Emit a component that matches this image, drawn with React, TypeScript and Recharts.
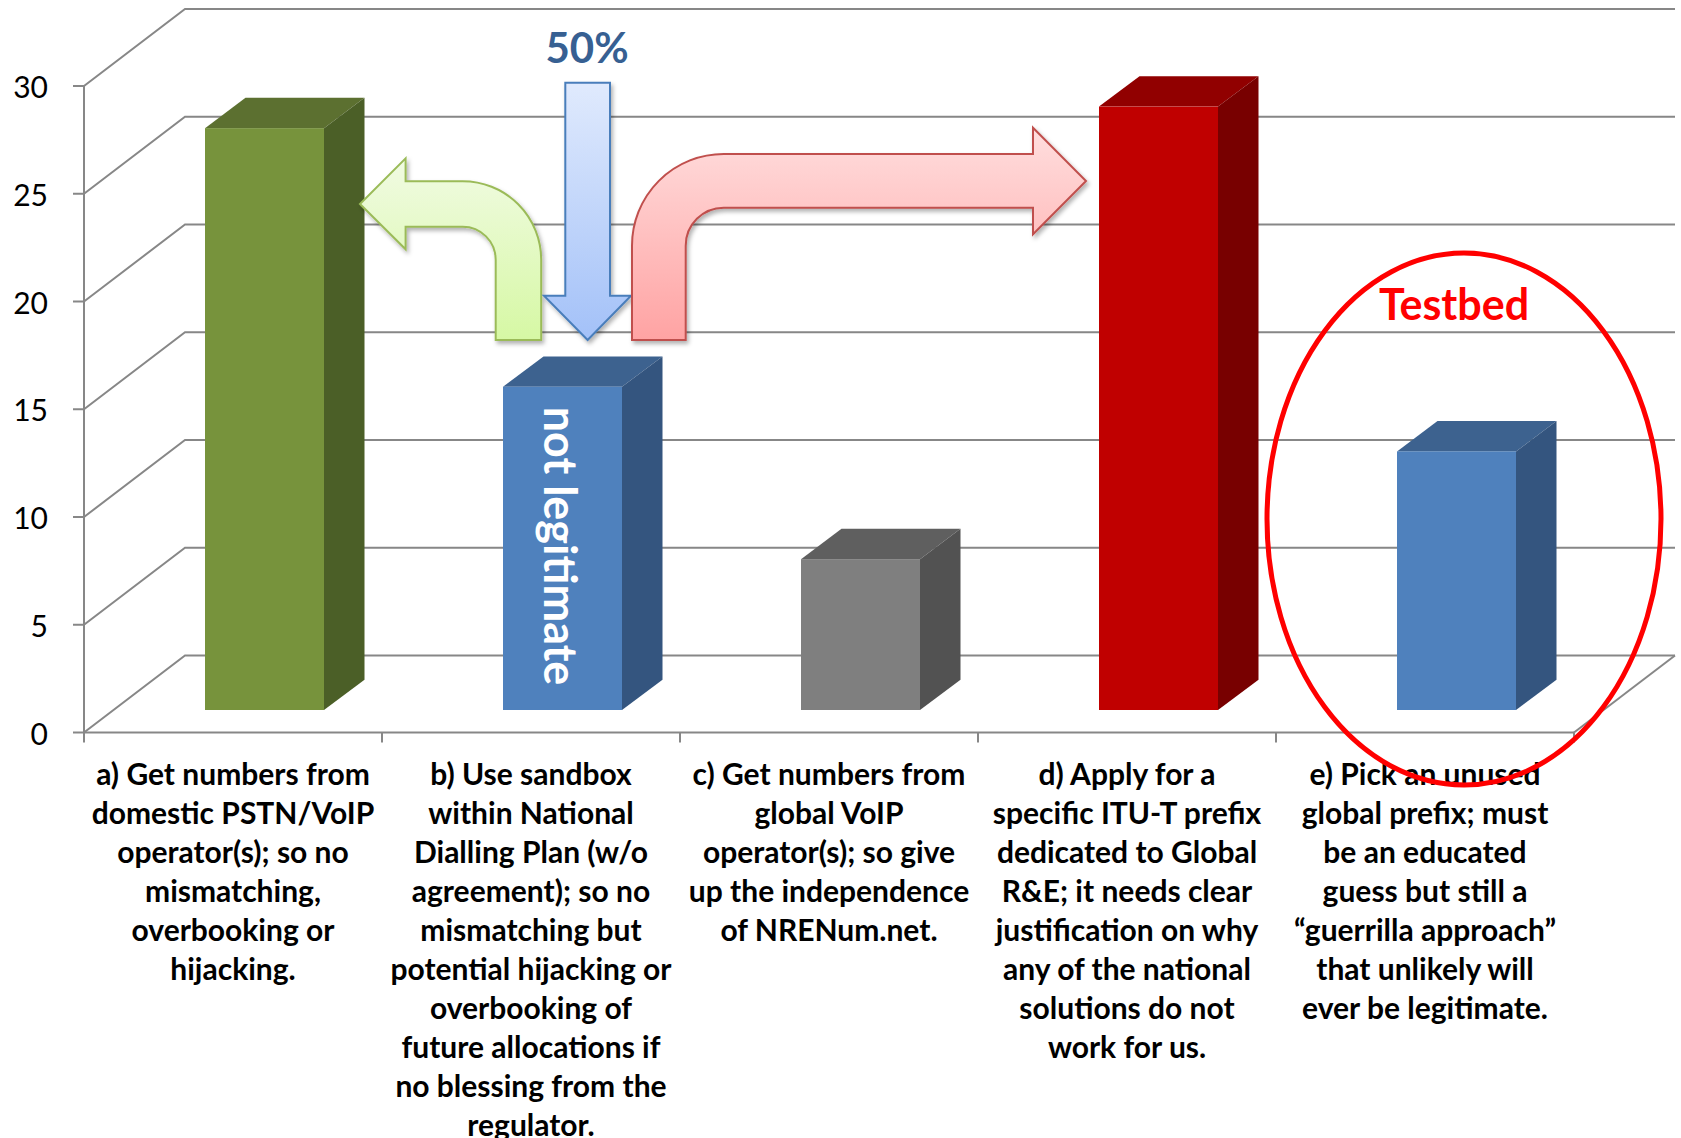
import { Bar, BarChart, CartesianGrid, XAxis, YAxis } from 'recharts';

// votes per numbering option
const categories = ['a', 'b', 'c', 'd', 'e'];
const votes = [27, 15, 7, 28, 12];
const yTicks = [0, 5, 10, 15, 20, 25, 30];

const labelLines = [
  ['a) Get numbers from', 'domestic PSTN/VoIP', 'operator(s); so no', 'mismatching,', 'overbooking or', 'hijacking.'],
  [
    'b) Use sandbox',
    'within National',
    'Dialling Plan (w/o',
    'agreement); so no',
    'mismatching but',
    'potential hijacking or',
    'overbooking of',
    'future allocations if',
    'no blessing from the',
    'regulator.',
  ],
  ['c) Get numbers from', 'global VoIP', 'operator(s); so give', 'up the independence', 'of NRENum.net.'],
  [
    'd) Apply for a',
    'specific ITU-T prefix',
    'dedicated to Global',
    'R&E; it needs clear',
    'justification on why',
    'any of the national',
    'solutions do not',
    'work for us.',
  ],
  [
    'e) Pick an unused',
    'global prefix; must',
    'be an educated',
    'guess but still a',
    '\u201Cguerrilla approach\u201D',
    'that unlikely will',
    'ever be legitimate.',
  ],
];

const data = categories.map((key, i) => ({ key, votes: votes[i] }));

const W = 1681;
const H = 1138;
const MARGIN = { top: 86, right: 107, bottom: 0, left: 0 };
const Y_AXIS_W = 84;
const X_AXIS_H = 405.5;
const PLOT_W = W - Y_AXIS_W - MARGIN.right;
const BAND = PLOT_W / categories.length;

// 3d projection offsets
const WALL_DX = 101;
const WALL_DY = 77;
const FACE_DX = 31;
const FACE_DY = 22.5;
const DEPTH_DX = 40.5;
const DEPTH_DY = 30.3;

const GRID = '#878787';
const FONT = 'Lato, "Open Sans", sans-serif';

const barColors = [
  { front: '#77933c', top: '#5c7030', side: '#4b5f27' },
  { front: '#4f81bd', top: '#3d628f', side: '#34557f' },
  { front: '#7f7f7f', top: '#5f5f5f', side: '#525252' },
  { front: '#c00000', top: '#910000', side: '#780000' },
  { front: '#4f81bd', top: '#3d628f', side: '#34557f' },
];

function Bar3D(props: any) {
  const { x, y, width, height, index } = props;
  const c = barColors[index];
  const fx = x + FACE_DX;
  const fy = y - FACE_DY;
  const top = `${fx},${fy} ${fx + DEPTH_DX},${fy - DEPTH_DY} ${fx + width + DEPTH_DX},${fy - DEPTH_DY} ${fx + width},${fy}`;
  const side = `${fx + width},${fy} ${fx + width + DEPTH_DX},${fy - DEPTH_DY} ${fx + width + DEPTH_DX},${fy + height - DEPTH_DY} ${fx + width},${fy + height}`;
  return (
    <g>
      <polygon points={top} fill={c.top} />
      <polygon points={side} fill={c.side} />
      <rect x={fx} y={fy} width={width} height={height} fill={c.front} />
    </g>
  );
}

function gridLine(props: any) {
  const { x1, y1, x2, index } = props;
  const isFloor = y1 > H - X_AXIS_H - 1;
  return (
    <g key={`grid-${index}`}>
      <path
        d={`M${x1},${y1} L${x1 + WALL_DX},${y1 - WALL_DY} L${x2 + WALL_DX},${y1 - WALL_DY}`}
        fill="none"
        stroke={GRID}
        strokeWidth={2}
      />
      {isFloor && (
        <line x1={x2} y1={y1} x2={x2 + WALL_DX} y2={y1 - WALL_DY} stroke={GRID} strokeWidth={2} />
      )}
    </g>
  );
}

function ValueTick({ x, y, payload }: any) {
  return (
    <text x={x} y={y} textAnchor="end" dominantBaseline="central" fontFamily={FONT} fontSize={30} fill="#000">
      {payload.value}
    </text>
  );
}

function CategoryTick({ x, y, index }: any) {
  const lines = labelLines[index] || [];
  const left = x - BAND / 2;
  return (
    <g>
      <line x1={left} y1={y} x2={left} y2={y + 10} stroke={GRID} strokeWidth={2} />
      {index === categories.length - 1 && (
        <line x1={x + BAND / 2} y1={y} x2={x + BAND / 2} y2={y + 10} stroke={GRID} strokeWidth={2} />
      )}
      <text textAnchor="middle" fontFamily={FONT} fontWeight={700} fontSize={30} fill="#000">
        {lines.map((line, i) => (
          <tspan key={i} x={x} y={y + 52.5 + i * 39}>
            {line}
          </tspan>
        ))}
      </text>
    </g>
  );
}

function Annotations() {
  return (
    <svg width={W} height={H} style={{ position: 'absolute', left: 0, top: 0, pointerEvents: 'none' }}>
      <defs>
        <linearGradient id="gBlue" x1="0" y1="0" x2="0" y2="1">
          <stop offset="0%" stopColor="#e0eafd" />
          <stop offset="100%" stopColor="#a3c1f8" />
        </linearGradient>
        <linearGradient id="gGreen" x1="0" y1="0" x2="0" y2="1">
          <stop offset="0%" stopColor="#f1fbe3" />
          <stop offset="100%" stopColor="#d6f8a4" />
        </linearGradient>
        <linearGradient id="gRed" x1="0" y1="0" x2="0" y2="1">
          <stop offset="0%" stopColor="#ffdede" />
          <stop offset="100%" stopColor="#ffa3a3" />
        </linearGradient>
        <filter id="shadow" x="-10%" y="-10%" width="130%" height="130%">
          <feDropShadow dx="2" dy="3" stdDeviation="2" floodColor="#000" floodOpacity="0.3" />
        </filter>
      </defs>

      <text x={587} y={63} textAnchor="middle" fontFamily={FONT} fontWeight={700} fontSize={42} fill="#376092">
        50%
      </text>

      <path
        d="M495.7,340 L495.7,259.7 A33,33 0 0 0 462.7,226.7 L405.6,226.7 L405.6,249.3 L360,204 L405.6,158.3 L405.6,181.2 L462.7,181.2 A78.5,78.5 0 0 1 541.2,259.7 L541.2,340 Z"
        fill="url(#gGreen)"
        stroke="#9bbb59"
        strokeWidth={2}
        filter="url(#shadow)"
      />
      <path
        d="M565.3,82.7 L610,82.7 L610,295.7 L631,295.7 L587.6,340 L544,295.7 L565.3,295.7 Z"
        fill="url(#gBlue)"
        stroke="#4a7ebb"
        strokeWidth={2}
        filter="url(#shadow)"
      />
      <path
        d="M632,340 L632,245.7 A91.7,91.7 0 0 1 723.7,154 L1033,154 L1033,127.7 L1086,181 L1033,234.3 L1033,207.7 L723.7,207.7 A38,38 0 0 0 685.7,245.7 L685.7,340 Z"
        fill="url(#gRed)"
        stroke="#c0504d"
        strokeWidth={2}
        filter="url(#shadow)"
      />

      <text
        transform="translate(561,546) rotate(90)"
        textAnchor="middle"
        dominantBaseline="central"
        fontFamily={FONT}
        fontWeight={700}
        fontSize={45}
        fill="#ffffff"
      >
        not legitimate
      </text>

      <ellipse cx={1464} cy={519} rx={197} ry={266} fill="none" stroke="#ff0000" strokeWidth={5} />
      <text x={1454} y={320} textAnchor="middle" fontFamily={FONT} fontWeight={700} fontSize={43} fill="#ff0000">
        Testbed
      </text>
    </svg>
  );
}

export default function App() {
  return (
    <div style={{ position: 'absolute', left: 0, top: 0, width: W, height: H, background: '#fff', overflow: 'hidden' }}>
      <BarChart width={W} height={H} data={data} margin={MARGIN}>
        <CartesianGrid vertical={false} horizontal={gridLine} stroke={GRID} />
        <XAxis
          dataKey="key"
          height={X_AXIS_H}
          interval={0}
          tickLine={false}
          tickSize={0}
          tickMargin={0}
          axisLine={{ stroke: GRID, strokeWidth: 2 }}
          tick={<CategoryTick />}
        />
        <YAxis
          width={Y_AXIS_W}
          domain={[0, 30]}
          ticks={yTicks}
          interval={0}
          tickSize={11}
          tickMargin={25}
          axisLine={{ stroke: GRID, strokeWidth: 2 }}
          tickLine={{ stroke: GRID, strokeWidth: 2 }}
          tick={<ValueTick />}
        />
        <Bar dataKey="votes" barSize={119} shape={<Bar3D />} isAnimationActive={false} />
      </BarChart>
      <Annotations />
    </div>
  );
}
